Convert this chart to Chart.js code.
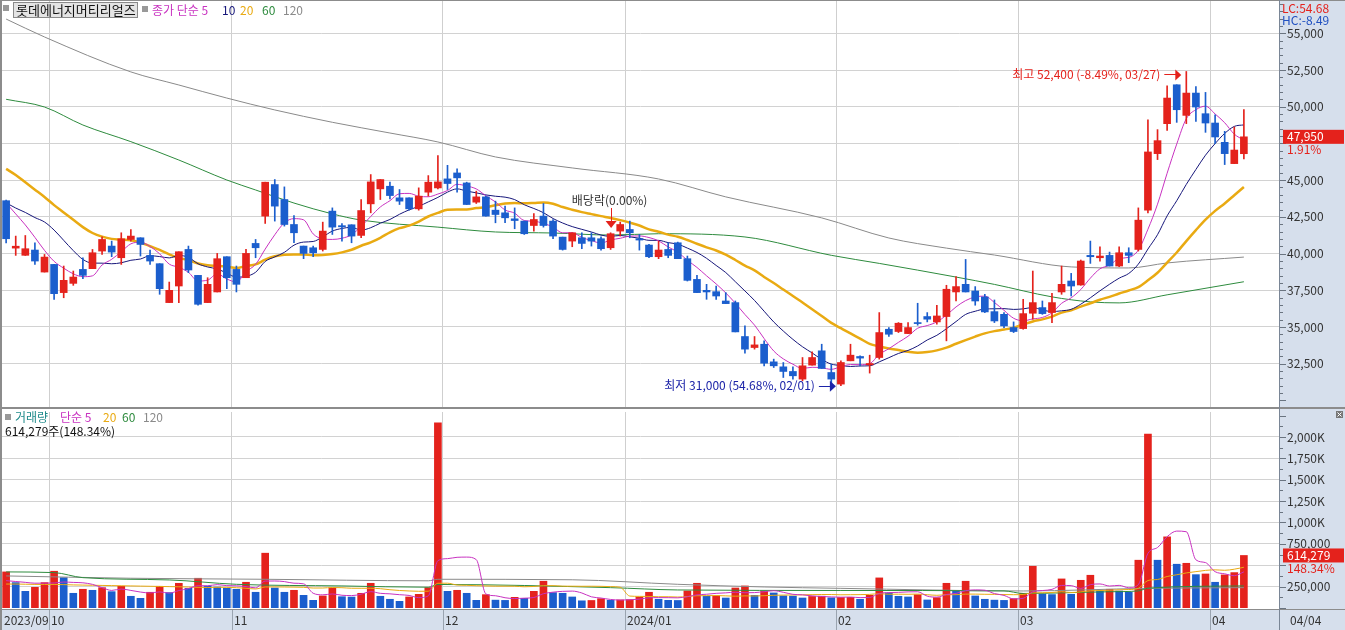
<!DOCTYPE html>
<html>
<head>
<meta charset="utf-8">
<script src="https://cdn.jsdelivr.net/npm/chart.js@4.4.1/dist/chart.umd.min.js"></script>
<style>
  body { margin: 0; background: #fff; }
  #wrap { position: relative; width: 1345px; height: 630px; overflow: hidden; }
  canvas { position: absolute; left: 0; }
  #price { top: 0; }
  #volume { top: 409px; }
</style>
</head>
<body>
<div id="wrap">
  <canvas id="price" width="1345" height="409"></canvas>
  <canvas id="volume" width="1345" height="221"></canvas>
</div>
<script>
// daily candles, 2023/09/21 .. 2024/04/04
var opens = [43600,40370,39880,40240,38740,39260,37340,37970,38920,38970,40170,40510,39715,40960,41075,39875,39310,36660,37790,40280,
  38515,36660,37385,39785,38920,38355,40690,42550,44700,43680,41980,40510,40395,40280,42890,41900,41960,41235,43385,44405,
  44585,43795,43795,43045,44180,44470,45085,45490,44810,43500,43860,42955,42775,42365,42210,41910,42550,42210,41120,40850,
  41075,41075,41010,40395,41530,41640,41010,40580,39785,40280,40735,39650,38240,37495,37405,36770,36660,34350,33600,33825,
  32625,32285,31970,31450,32400,33375,31900,31110,32695,32990,32420,32920,34845,34690,34550,35300,35710,35345,35710,37385,
  37905,37450,37045,36045,35860,34960,34890,35935,36320,35980,37385,38130,37860,39875,39715,39875,39150,40055,40280,42955,
  46805,48845,51495,49410,50930,49525,48890,47575,46125,46800];
var highs = [43650,41190,41230,40735,39940,39260,39150,38810,39715,40280,41145,40850,41415,41640,41075,40240,39310,38060,40125,40510,
  38515,38355,40010,39785,39150,40280,40960,44860,45040,44540,42590,40510,40510,42140,43110,42050,41960,43680,45380,45040,
  44860,44360,43795,44475,45310,46670,46010,45765,44860,44250,43910,43570,43230,43110,42210,42730,43410,42320,41120,41415,
  41415,41415,41145,41415,42140,42210,41300,40625,40850,40735,40780,39830,38515,37905,37790,37340,36770,35075,34350,34055,
  32810,32580,32285,32920,33305,33825,32470,32695,33825,33035,33080,35980,34960,35300,35300,36615,35980,36480,37840,38425,
  39600,37750,37225,36840,35980,35345,36885,38810,36770,37295,39150,38650,39560,40850,40465,40100,40465,40395,43110,49115,
  48440,51430,51495,52400,51380,50975,49455,48325,48620,49800];
var lows = [40730,39875,39870,39260,38740,36885,36990,37835,38290,38970,39940,39785,39260,40850,39830,39260,37225,36660,36660,38700,
  36480,36660,37385,37610,37385,38355,39715,42050,42210,41870,40735,39650,39785,40170,41300,40850,40735,41075,42775,43680,
  43725,43340,42955,42955,43910,44405,44360,44180,43340,43410,42550,42095,42095,41690,41300,41530,41800,41010,40235,40465,
  40330,40510,40235,40280,41190,41075,40235,39715,39650,39715,39650,38130,37340,36885,36885,36590,34665,33215,33490,32355,
  32240,31560,31450,31335,32400,32175,31150,31000,32695,32355,31860,32810,34350,34620,34550,35120,35345,35190,34055,36770,
  37385,36480,35980,35300,34960,34620,34845,35525,35860,35300,37225,37110,37840,39330,39490,39150,39105,39380,40170,42775,
  46400,48390,48935,48850,49005,48255,47485,46060,46125,46440];
var closes = [41010,40500,40330,39490,39760,37270,38175,38400,38515,40055,40960,40100,41005,41190,40620,39490,37610,37495,40125,38880,
  36545,37905,39650,38355,37905,40010,40395,44860,43230,41980,41415,40010,40055,41530,41800,41820,41190,42930,44880,45040,
  43950,43570,43045,43910,44860,44880,44770,45155,43340,43860,42550,42660,42435,42250,41350,42320,41910,41190,40280,41415,
  40690,40850,40330,41350,41980,41415,40920,39785,40240,39875,39650,38175,37340,37385,37110,36590,34665,33490,33780,32535,
  32355,31970,31675,32355,32920,32175,31450,32580,33080,32880,32510,34620,34505,35255,34960,35230,35530,35750,37570,37750,
  37385,36770,36025,35410,35075,34690,35910,36660,35910,36660,37905,37790,39490,39785,39830,39150,40055,39875,42275,46920,
  47690,50590,49795,50930,49980,48890,47940,46805,47050,47950];
var volumes = [422000,297000,195000,242000,297000,430000,355000,172000,219000,207000,238000,191000,254000,137000,113000,184000,254000,180000,289000,230000,
  348000,255000,245000,230000,219000,301000,184000,641000,234000,184000,207000,148000,90000,141000,234000,132000,128000,172000,289000,137000,
  102000,78000,129000,160000,238000,2164000,195000,207000,172000,90000,156000,92000,89000,125000,113000,195000,313000,180000,172000,129000,
  84000,88000,109000,90000,94000,98000,129000,184000,102000,90000,88000,199000,289000,138000,143000,117000,234000,258000,148000,195000,
  176000,142000,139000,117000,135000,138000,119000,123000,125000,102000,148000,352000,176000,137000,129000,156000,94000,121000,289000,195000,
  313000,141000,102000,92000,89000,109000,172000,488000,163000,157000,340000,160000,324000,383000,199000,219000,199000,184000,559000,2035000,
  559000,832000,512000,523000,390000,398000,301000,387000,414000,614279];

var ma5Head = [43450,42700,41950,41100];
var ma10Head = [43450,43100,42800,42450,42150,41600,40900,40200,39600];
var ma20Head = [45770,45350,44850,44350,43850,43300,42800,42300,41800,41400,41150,41000,40950,40900,40750,40500,40250,39950,39700];
// long averages: [candle index, value]
var ma60Read = [[0,50505],[4,49980],[8,48755],[13,47620],[18,46370],[23,45010],[26,44330],[30,43440],[34,42700],[37,42280],
  [45,41800],[51,41470],[57,41400],[63,41260],[68,41350],[77,41130],[86,39880],[91,39330],[99,38400],[103,37900],
  [109,37050],[113,36710],[116,36640],[121,37190],[129,38080]];
var ma120Read = [[0,55970],[4,54750],[13,52370],[18,51480],[23,50590],[28,49780],[34,48940],[40,48210],[45,47600],[51,46580],
  [59,45830],[68,45080],[75,43860],[85,42430],[92,41060],[98,40370],[103,39900],[111,39090],[117,39020],[121,39360],[129,39760]];

var vma5Head = [320000,310000,300000,290000];
var vma20Head = [280000,280000,278000,276000,275000,275000,273000,270000,268000,266000,264000,262000,260000,258000,256000,254000,252000,250000,248000];
var vma60Read = [[0,422000],[5,414000],[8,355000],[17,328000],[24,277000],[35,258000],[44,243000],[45,275000],[63,238000],[70,211000],
  [87,205000],[104,200000],[106,170000],[115,190000],[118,200000],[119,232000],[129,258000]];
var vma120Read = [[0,375000],[13,348000],[27,336000],[44,318000],[45,336000],[59,330000],[70,277000],[79,246000],[87,230000],
  [106,199000],[119,230000],[129,238000]];

var priceTicks = [32500,35000,37500,40000,42500,45000,47500,50000,52500,55000];
var volumeTicks = [250000,500000,750000,1000000,1250000,1500000,1750000,2000000];
var monthStarts = [0,5,24,46,65,87,106,126];
var monthLabels = ['2023/09','10','11','12','2024/01','02','03','04'];

var RED = '#e4221c', BLUE = '#1b5ecd';
var C5 = '#c832c0', C10 = '#16167a', C20 = '#e9aa12', C60 = '#2e8b3e', C120 = '#8a8a8a';
var PANEL = '#d6dfec';
var FONT = '"Noto Sans CJK KR", "Noto Sans", sans-serif';

Chart.defaults.font.family = FONT;
Chart.defaults.font.size = 12;

function movingAverage(values, n, head) {
  return values.map(function (v, i) {
    if (i < n - 1) return head[i];
    var s = 0;
    for (var k = i - n + 1; k <= i; k++) s += values[k];
    return s / n;
  });
}
function toPoints(arr) { return arr.map(function (v, i) { return { x: i, y: v }; }); }
function pairPoints(arr) { return arr.map(function (p) { return { x: p[0], y: p[1] }; }); }
function fmt(v) { return v.toLocaleString('en-US'); }

var lastClose = closes[closes.length - 1];
var lastVolume = volumes[volumes.length - 1];
var upDay = closes.map(function (c, i) { return c >= opens[i]; });
var candleColors = upDay.map(function (u) { return u ? RED : BLUE; });
var volColors = volumes.map(function (v, i) { return (i === 0 || v > volumes[i - 1]) ? RED : BLUE; });

function lineDs(data, color, width, order) {
  return { type: 'line', data: data, borderColor: color, borderWidth: width, pointRadius: 0,
    fill: false, tension: 0, cubicInterpolationMode: 'monotone', order: order };
}

var X_MIN = -0.43, X_MAX = 132.66;

function monthGrid(scale) {
  scale.ticks = monthStarts.slice(1).map(function (m) { return { value: m - 0.5 }; });
}
function noPad(s) {
  s.paddingTop = 0; s.paddingBottom = 0; s.paddingLeft = 0; s.paddingRight = 0;
}

function text(ctx, s, x, y, color, align) {
  ctx.fillStyle = color;
  ctx.textAlign = align || 'left';
  ctx.fillText(s, x, y);
}

function arrow(ctx, x0, x1, y, color) {
  ctx.strokeStyle = color;
  ctx.fillStyle = color;
  ctx.lineWidth = 1;
  ctx.beginPath();
  ctx.moveTo(x0, Math.round(y) + 0.5);
  ctx.lineTo(x1 - 5, Math.round(y) + 0.5);
  ctx.stroke();
  ctx.beginPath();
  ctx.moveTo(x1 - 6, y - 5);
  ctx.lineTo(x1, y + 0.5);
  ctx.lineTo(x1 - 6, y + 6);
  ctx.closePath();
  ctx.fill();
}

var priceDeco = {
  id: 'priceDeco',
  beforeDraw: function (chart) {
    var ctx = chart.ctx;
    ctx.save();
    ctx.fillStyle = PANEL;
    ctx.fillRect(1280, 0, 65, 409);
    ctx.restore();
  },
  afterDraw: function (chart) {
    var ctx = chart.ctx, xs = chart.scales.x, ys = chart.scales.y;
    ctx.save();
    ctx.font = '12px ' + FONT;
    ctx.textBaseline = 'middle';
    // frame
    ctx.fillStyle = '#8c8c8c';
    ctx.fillRect(0, 0, 1345, 1);
    ctx.fillRect(0, 0, 2, 409);
    ctx.fillRect(0, 407, 1345, 2);
    ctx.fillStyle = '#7a8696';
    ctx.fillRect(1279, 0, 1, 409);
    // right axis ticks
    ctx.strokeStyle = '#6a7480';
    ctx.lineWidth = 1;
    for (var v = 30000; v <= 57000; v += 500) {
      var py = Math.round(ys.getPixelForValue(v)) + 0.5;
      ctx.beginPath();
      ctx.moveTo(1280, py);
      ctx.lineTo(v % 2500 === 0 ? 1286 : 1283, py);
      ctx.stroke();
    }
    text(ctx, 'LC:54.68', 1282, 8, RED);
    text(ctx, 'HC:-8.49', 1282, 20, '#2050c0');
    // last price box
    var lp = ys.getPixelForValue(lastClose);
    ctx.fillStyle = RED;
    ctx.fillRect(1283, lp - 7, 61, 14);
    text(ctx, fmt(lastClose), 1287, lp, '#fff');
    text(ctx, '1.91%', 1287, lp + 13, RED);
    // legend
    ctx.fillStyle = '#999';
    ctx.fillRect(3, 5, 6, 6);
    ctx.fillStyle = '#e4e4e4';
    ctx.fillRect(13, 2, 124, 15);
    ctx.strokeStyle = '#8a8a8a';
    ctx.strokeRect(13.5, 2.5, 124, 15);
    ctx.font = '13px ' + FONT;
    text(ctx, '롯데에너지머티리얼즈', 16, 10, '#111');
    ctx.font = '12px ' + FONT;
    ctx.fillStyle = '#999';
    ctx.fillRect(142, 6, 6, 6);
    text(ctx, '종가 단순 5', 152, 10, C5);
    text(ctx, '10', 222, 10, C10);
    text(ctx, '20', 240, 10, C20);
    text(ctx, '60', 262, 10, C60);
    text(ctx, '120', 283, 10, C120);
    // highest
    var hx = xs.getPixelForValue(123), hy = ys.getPixelForValue(52400) + 3;
    text(ctx, '최고 52,400 (-8.49%, 03/27)', hx - 26, hy, RED, 'right');
    arrow(ctx, hx - 22, hx - 5, hy, RED);
    // lowest
    var lx = xs.getPixelForValue(87), ly = ys.getPixelForValue(31000);
    text(ctx, '최저 31,000 (54.68%, 02/01)', lx - 26, ly, '#1c24a8', 'right');
    arrow(ctx, lx - 22, lx - 5, ly, '#1c24a8');
    // ex-dividend
    var dx = xs.getPixelForValue(63);
    text(ctx, '배당락(0.00%)', dx - 1, 200, '#333', 'center');
    ctx.strokeStyle = RED;
    ctx.beginPath();
    ctx.moveTo(Math.round(dx) + 0.5, 208);
    ctx.lineTo(Math.round(dx) + 0.5, 222);
    ctx.stroke();
    ctx.fillStyle = RED;
    ctx.beginPath();
    ctx.moveTo(dx - 5, 221);
    ctx.lineTo(dx + 6, 221);
    ctx.lineTo(dx + 0.5, 228);
    ctx.closePath();
    ctx.fill();
    ctx.restore();
  }
};

new Chart(document.getElementById('price'), {
  data: {
    datasets: [
      { type: 'bar', data: closes.map(function (c, i) { return { x: i, y: [lows[i], highs[i]] }; }),
        backgroundColor: candleColors, barThickness: 1, grouped: false, order: 2 },
      { type: 'bar', data: closes.map(function (c, i) { return { x: i, y: [opens[i], c] }; }),
        backgroundColor: candleColors, barThickness: 7, minBarLength: 1, grouped: false, order: 1 },
      lineDs(toPoints(movingAverage(closes, 5, ma5Head)), C5, 1, 5),
      lineDs(toPoints(movingAverage(closes, 10, ma10Head)), C10, 1, 6),
      lineDs(toPoints(movingAverage(closes, 20, ma20Head)), C20, 2.5, 7),
      lineDs(pairPoints(ma60Read), C60, 1, 8),
      lineDs(pairPoints(ma120Read), C120, 1, 9)
    ]
  },
  options: {
    responsive: false, animation: false, devicePixelRatio: 1,
    layout: { padding: { left: 2, top: 1, bottom: 2, right: 0 }, autoPadding: false },
    plugins: { legend: { display: false }, tooltip: { enabled: false } },
    scales: {
      x: { type: 'linear', min: X_MIN, max: X_MAX, offset: false, afterBuildTicks: monthGrid,
        afterFit: function (s) { s.height = 0; noPad(s); },
        ticks: { display: false }, grid: { color: '#cfcfcf', drawTicks: false, offset: false }, border: { display: false } },
      y: { position: 'right', min: 29550, max: 57200, offset: false,
        afterBuildTicks: function (s) { s.ticks = priceTicks.map(function (v) { return { value: v }; }); },
        afterFit: function (s) { s.width = 66; noPad(s); },
        // the tick hidden behind the last-price box is left blank
        ticks: { padding: 8, color: '#333', font: { size: 12 },
          callback: function (v) { return Math.abs(ys_px(v) - ys_px(lastClose)) < 12 ? '' : fmt(v); } },
        grid: { color: '#d2d2d2', drawTicks: false, offset: false }, border: { display: false } }
    }
  },
  plugins: [priceDeco]
});

// rough value-to-pixel test used only to decide which tick label the price box covers
function ys_px(v) { return (57200 - v) / (57200 - 29550) * 406; }

var volumeDeco = {
  id: 'volumeDeco',
  beforeDraw: function (chart) {
    var ctx = chart.ctx;
    ctx.save();
    ctx.fillStyle = PANEL;
    ctx.fillRect(1280, 0, 65, 221);
    ctx.fillRect(0, 201, 1345, 20);
    ctx.restore();
  },
  afterDraw: function (chart) {
    var ctx = chart.ctx, xs = chart.scales.x, ys = chart.scales.y;
    ctx.save();
    ctx.font = '12px ' + FONT;
    ctx.textBaseline = 'middle';
    ctx.fillStyle = '#8c8c8c';
    ctx.fillRect(0, 0, 2, 221);
    ctx.fillRect(0, 200, 1345, 1);
    ctx.fillStyle = '#7a8696';
    ctx.fillRect(1279, 0, 1, 221);
    // month separators in the date band and labels
    for (var i = 0; i < monthStarts.length; i++) {
      var mx = i === 0 ? 2 : Math.round(xs.getPixelForValue(monthStarts[i] - 0.5));
      if (i > 0) { ctx.fillStyle = '#9aa4b0'; ctx.fillRect(mx, 201, 1, 20); }
      text(ctx, monthLabels[i], mx + 2, 211, '#333');
    }
    text(ctx, '04/04', 1290, 211, '#333');
    // right axis ticks
    ctx.strokeStyle = '#6a7480';
    ctx.lineWidth = 1;
    for (var v = 0; v <= 2250000; v += 125000) {
      var py = Math.round(ys.getPixelForValue(v)) + 0.5;
      ctx.beginPath();
      ctx.moveTo(1280, py);
      ctx.lineTo(v % 250000 === 0 ? 1286 : 1283, py);
      ctx.stroke();
    }
    var vy = ys.getPixelForValue(lastVolume);
    ctx.fillStyle = RED;
    ctx.fillRect(1283, vy - 7, 61, 14);
    text(ctx, fmt(lastVolume), 1287, vy, '#fff');
    text(ctx, '148.34%', 1287, vy + 13, RED);
    // close icon
    ctx.fillStyle = '#777';
    ctx.fillRect(1336, 2, 7, 7);
    ctx.strokeStyle = '#fff';
    ctx.beginPath();
    ctx.moveTo(1337.5, 3.5); ctx.lineTo(1341.5, 7.5);
    ctx.moveTo(1341.5, 3.5); ctx.lineTo(1337.5, 7.5);
    ctx.stroke();
    // legend
    ctx.fillStyle = '#999';
    ctx.fillRect(5, 5, 6, 6);
    text(ctx, '거래량', 15, 8, '#1f8a8a');
    text(ctx, '단순 5', 60, 8, C5);
    text(ctx, '20', 103, 8, C20);
    text(ctx, '60', 122, 8, C60);
    text(ctx, '120', 143, 8, C120);
    text(ctx, fmt(lastVolume) + '주(148.34%)', 5, 22, '#111');
    ctx.restore();
  }
};

new Chart(document.getElementById('volume'), {
  data: {
    datasets: [
      { type: 'bar', data: toPoints(volumes), backgroundColor: volColors, barThickness: 7, grouped: false, order: 5 },
      lineDs(toPoints(movingAverage(volumes, 5, vma5Head)), C5, 1, 1),
      lineDs(toPoints(movingAverage(volumes, 20, vma20Head)), C20, 1, 2),
      lineDs(pairPoints(vma60Read), C60, 1, 3),
      lineDs(pairPoints(vma120Read), C120, 1, 4)
    ]
  },
  options: {
    responsive: false, animation: false, devicePixelRatio: 1,
    layout: { padding: { left: 2, top: 3, bottom: 0, right: 0 }, autoPadding: false },
    plugins: { legend: { display: false }, tooltip: { enabled: false } },
    scales: {
      x: { type: 'linear', min: X_MIN, max: X_MAX, offset: false, afterBuildTicks: monthGrid,
        afterFit: function (s) { s.height = 22; noPad(s); },
        ticks: { display: false }, grid: { color: '#cfcfcf', drawTicks: false, offset: false }, border: { display: false } },
      y: { position: 'right', min: 0, max: 2292000, offset: false,
        afterBuildTicks: function (s) { s.ticks = volumeTicks.map(function (v) { return { value: v }; }); },
        afterFit: function (s) { s.width = 66; noPad(s); },
        ticks: { padding: 8, color: '#333', font: { size: 12 },
          callback: function (v) { return v === 500000 ? '' : (v >= 1000000 ? fmt(v / 1000) + 'K' : fmt(v)); } },
        grid: { color: '#d2d2d2', drawTicks: false, offset: false }, border: { display: false } }
    }
  },
  plugins: [volumeDeco]
});
</script>
</body>
</html>
